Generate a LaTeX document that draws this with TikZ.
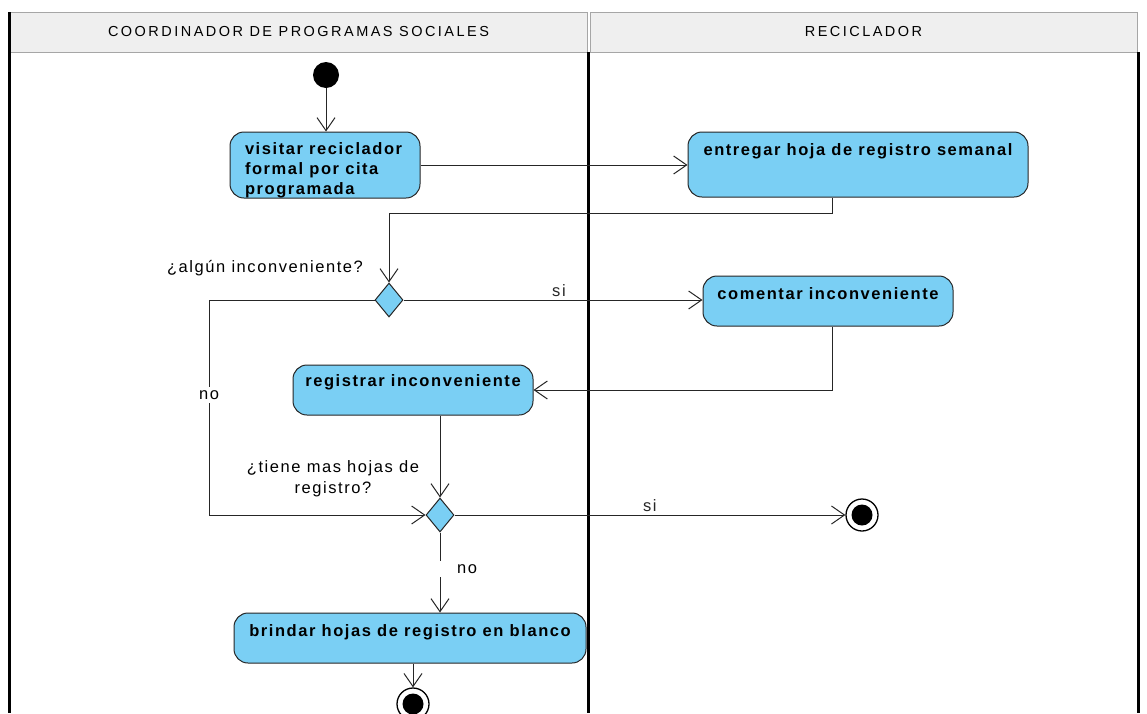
\documentclass[tikz,border=0pt]{standalone}
\usepackage{fontspec}
\setmainfont{Liberation Sans}[LetterSpace=9.5]
\usetikzlibrary{arrows.meta,shapes.geometric}

\definecolor{celeste}{HTML}{7ACFF4}
\definecolor{grisclaro}{HTML}{EFEFEF}

% caja de texto de una actividad: [alineacion]{ancho}{alto}{linea base}{texto}
\newcommand{\actividad}[5][\centering]{\parbox[c][#3][t]{#2}{#1\rule{0pt}{#4}#5}}

\begin{document}
\begin{tikzpicture}[x=1pt,y=-1pt,
    accion/.style={rectangle,rounded corners=14pt,draw=black!85,fill=\COLORACT,
        line width=1pt,inner sep=0pt,font=\fontsize{16.5}{20}\selectfont\bfseries},
    decision/.style={diamond,draw=black!85,fill=\COLORACT,line width=1pt,
        inner sep=0pt,minimum width=28pt,minimum height=34pt},
    inicio/.style={circle,fill=black,inner sep=0pt,minimum size=26pt},
    fin/.style={circle,draw=black,line width=1.3pt,inner sep=0pt,minimum size=32pt,
        path picture={\fill[black] (path picture bounding box.center) circle (10.5pt);}},
    flecha/.style={-{Straight Barb[length=13pt,width=18pt]},line width=1pt,black!85},
    etiqueta/.style={font=\fontsize{16.5}{21}\selectfont,inner sep=3pt},
    cabecera/.style={rectangle,draw=gray!70,fill=\COLORCAB,line width=1pt,
        minimum height=40pt,font=\fontsize{14.5}{18}\selectfont\addfontfeature{LetterSpace=17}},
    carril/.style={line width=2.6pt,black}]

\def\COLORACT{celeste}
\def\COLORCAB{grisclaro}
\useasboundingbox (0,0) rectangle (1147,713);

	% carriles
	\node[cabecera,minimum width=577pt] (coordinador) at (298.5,32) {COORDINADOR DE PROGRAMAS SOCIALES};
	\node[cabecera,minimum width=547pt] (reciclador) at (863.5,32) {RECICLADOR};
	\draw[carril] (9.5,12) -- (9.5,713);
	\draw[carril] (588.5,52) -- (588.5,713);
	\draw[carril] (1138.5,52) -- (1138.5,713);

	% nodos
	\node[inicio] (inicio) at (326,75) {};
	\node[accion] (visitar) at (325,165) {\actividad[\raggedright\leftskip=15pt]{190pt}{66pt}{22pt}{visitar reciclador\\formal por cita\\programada}};
	\node[accion] (entregar) at (858,164.5) {\actividad{340pt}{65pt}{23pt}{entregar hoja de registro semanal}};
	\node[decision] (decision1) at (389,300) {};
	\node[etiqueta] (pregunta1) at (265,268) {¿algún inconveniente?};
	\node[accion] (comentar) at (828,301) {\actividad{250pt}{50pt}{23pt}{comentar inconveniente}};
	\node[accion] (registrar) at (413,390) {\actividad{240pt}{50pt}{21pt}{registrar inconveniente}};
	\node[decision] (decision2) at (440,515) {};
	\node[etiqueta,align=center] (pregunta2) at (333,479) {¿tiene mas hojas de\\registro?};
	\node[fin] (fin1) at (862,515) {};
	\node[accion] (brindar) at (410,638) {\actividad{352pt}{50pt}{23pt}{brindar hojas de registro en blanco}};
	\node[fin] (fin2) at (413,704) {};

	\coordinate (codo1) at (832,213);
	\coordinate (codo2) at (209,515);

	% flujos
	\draw[flecha] (inicio.south) -- (inicio.south |- visitar.north);
	\draw[flecha] (visitar.east) -- (visitar.east -| entregar.west);
	\draw[flecha] (entregar.south -| codo1) -- (codo1) -| (decision1.north);
	\draw[flecha] (decision1.east) -- node[etiqueta,above,pos=0.52] (si1) {si} (decision1.east -| comentar.west);
	\draw[flecha] (comentar.south -| codo1) |- (registrar.east);
	\draw[flecha] (decision1.west) -| (codo2) -- (decision2.west);
	\node[etiqueta,fill=white] (no1) at (209,395) {no};
	\draw[flecha] (registrar.south -| decision2) -- (decision2.north);
	\draw[flecha] (decision2.east) -- node[etiqueta,above] (si2) {si} (fin1.west);
	\draw[flecha] (decision2.south) -- (decision2.south |- brindar.north);
	\node[etiqueta,fill=white,minimum width=58pt] (no2) at (467,569) {no};
	\draw[flecha] (brindar.south -| fin2) -- (fin2);

\end{tikzpicture}
\end{document}
